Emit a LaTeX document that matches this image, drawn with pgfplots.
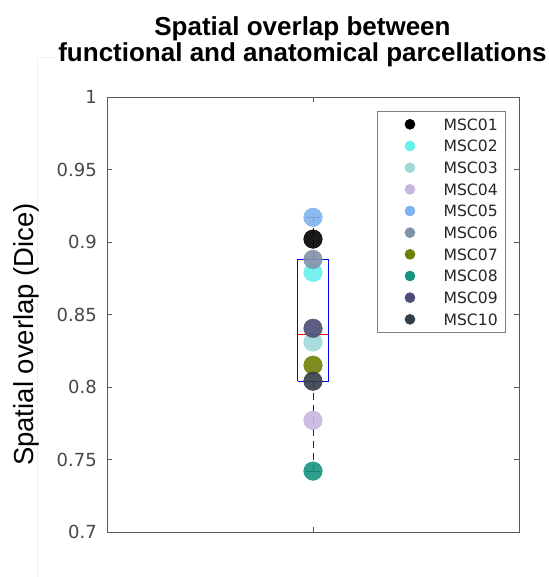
\documentclass[border=0pt]{standalone}
\usepackage{pgfplots}
\pgfplotsset{compat=1.18}
\usepackage{fontspec}
\setmainfont{Liberation Sans}
\newfontfamily\dejavu{DejaVu Sans}
\definecolor{c01}{RGB}{0,0,0}
\definecolor{c02}{RGB}{104,240,235}
\definecolor{c03}{RGB}{160,216,216}
\definecolor{c04}{RGB}{200,182,224}
\definecolor{c05}{RGB}{128,178,240}
\definecolor{c06}{RGB}{128,146,168}
\definecolor{c07}{RGB}{112,128,6}
\definecolor{c08}{RGB}{22,148,128}
\definecolor{c09}{RGB}{76,76,116}
\definecolor{c10}{RGB}{52,62,72}
\begin{document}
\begin{tikzpicture}
\useasboundingbox (0,0) rectangle (549bp,577bp);
\draw[black!6, line width=0.8bp] (37bp,0bp) -- (37bp,520bp) -- (549bp,520bp);
\node[anchor=base, fill=white, inner sep=1bp, font=\bfseries\fontsize{26bp}{26bp}\selectfont] at (302.5bp,541bp) {Spatial overlap between};
\node[anchor=base, fill=white, inner sep=1bp, font=\bfseries\fontsize{26bp}{26bp}\selectfont] at (302.5bp,515bp) {functional and anatomical parcellations};
\begin{axis}[
  at={(107bp,45bp)}, anchor=south west,
  scale only axis, width=412bp, height=435bp,
  xmin=0.5, xmax=1.5, ymin=0.7, ymax=1,
  xtick={1}, xticklabels={},
  ytick={0.7,0.75,0.8,0.85,0.9,0.95,1},
  yticklabels={0.7,0.75,0.8,0.85,0.9,0.95,1},
  tick align=inside, major tick length=5bp,
  axis line style={black!65, line width=0.6bp},
  tick style={black!65, line width=0.6bp},
  /pgf/number format/assume math mode=true,
  yticklabel style={font=\dejavu\fontsize{18bp}{18bp}\selectfont, text=black!72, inner sep=0pt, xshift=-10bp},
  ylabel={Spatial overlap (Dice)},
  every axis y label/.style={at={(axis description cs:-0.1796,0.454)}, rotate=90, anchor=base, inner sep=0pt, font=\fontsize{27.5bp}{27.5bp}\selectfont},
  legend style={at={(0.9684,0.9678)}, anchor=north east, draw=black!50, line width=0.6bp, fill=white,
    inner xsep=8bp, inner ysep=7.3bp, font=\dejavu\fontsize{15.6bp}{15.6bp}\selectfont,
    nodes={inner sep=0pt, text height=11.4bp, text depth=0bp}, row sep=10.27bp, column sep=0bp, text=black!85},
  legend cell align=left,
  legend style={cells={anchor=west}},
  legend image code/.code={\path (0bp,0bp) (58bp,0bp); \draw[#1] plot coordinates {(24.7bp,0bp)};},
  legend image post style={mark size=5bp, every mark/.append style={fill opacity=1}},
]
% whiskers
\addplot[forget plot, black!85, line width=0.7bp, dash pattern=on 7bp off 5bp] coordinates {(1,0.888) (1,0.917)};
\addplot[forget plot, black!85, line width=0.7bp, dash pattern=on 7bp off 5bp] coordinates {(1,0.804) (1,0.742)};
% subjects
\addplot[only marks, mark=*, mark size=9.3bp, color=c01, mark options={draw=none, fill=c01, fill opacity=0.9}] coordinates {(1,0.902)};
\addlegendentry{MSC01}
\addplot[only marks, mark=*, mark size=9.3bp, color=c02, mark options={draw=none, fill=c02, fill opacity=0.9}] coordinates {(1,0.879)};
\addlegendentry{MSC02}
\addplot[only marks, mark=*, mark size=9.3bp, color=c03, mark options={draw=none, fill=c03, fill opacity=0.9}] coordinates {(1,0.831)};
\addlegendentry{MSC03}
\addplot[only marks, mark=*, mark size=9.3bp, color=c04, mark options={draw=none, fill=c04, fill opacity=0.9}] coordinates {(1,0.777)};
\addlegendentry{MSC04}
\addplot[only marks, mark=*, mark size=9.3bp, color=c05, mark options={draw=none, fill=c05, fill opacity=0.9}] coordinates {(1,0.917)};
\addlegendentry{MSC05}
\addplot[only marks, mark=*, mark size=9.3bp, color=c06, mark options={draw=none, fill=c06, fill opacity=0.9}] coordinates {(1,0.888)};
\addlegendentry{MSC06}
\addplot[only marks, mark=*, mark size=9.3bp, color=c07, mark options={draw=none, fill=c07, fill opacity=0.9}] coordinates {(1,0.815)};
\addlegendentry{MSC07}
\addplot[only marks, mark=*, mark size=9.3bp, color=c08, mark options={draw=none, fill=c08, fill opacity=0.9}] coordinates {(1,0.742)};
\addlegendentry{MSC08}
\addplot[only marks, mark=*, mark size=9.3bp, color=c09, mark options={draw=none, fill=c09, fill opacity=0.9}] coordinates {(1,0.8405)};
\addlegendentry{MSC09}
\addplot[only marks, mark=*, mark size=9.3bp, color=c10, mark options={draw=none, fill=c10, fill opacity=0.9}] coordinates {(1,0.804)};
\addlegendentry{MSC10}
% box, median, caps
\addplot[forget plot, blue, line width=0.8bp] coordinates {(0.9624,0.804) (1.0376,0.804) (1.0376,0.888) (0.9624,0.888) (0.9624,0.804)};
\addplot[forget plot, red, line width=0.8bp] coordinates {(0.9624,0.836) (1.0376,0.836)};
\addplot[forget plot, black, line width=0.8bp] coordinates {(0.982,0.917) (1.018,0.917)};
\addplot[forget plot, black, line width=0.8bp] coordinates {(0.982,0.742) (1.018,0.742)};
\end{axis}
\end{tikzpicture}
\end{document}
